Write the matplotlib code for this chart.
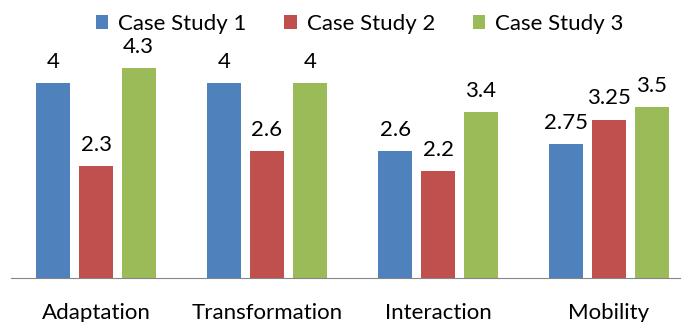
import numpy as np
import matplotlib.pyplot as plt

categories = ['Adaptation', 'Transformation', 'Interaction', 'Mobility']
series_names = ['Case Study 1', 'Case Study 2', 'Case Study 3']
case1 = [4, 4, 2.6, 2.75]
case2 = [2.3, 2.6, 2.2, 3.25]
case3 = [4.3, 4, 3.4, 3.5]
colors = ['#4F81BD', '#C0504D', '#9BBB59']

plt.rcParams['font.family'] = ['Lato', 'DejaVu Sans']
fs = 16

fig = plt.figure(figsize=(6.81, 3.22), dpi=100)
ax = fig.add_axes([10.5 / 681, 44 / 322, 684 / 681, 5 * 48.75 / 322])

x = np.arange(len(categories))
width = 0.2
step = 0.25
for i, (vals, name) in enumerate(zip([case1, case2, case3], series_names)):
    bars = ax.bar(x + (i - 1) * step, vals, width, color=colors[i], label=name)
    for b, v in zip(bars, vals):
        ax.annotate('%g' % v, (b.get_x() + b.get_width() / 2, v),
                    xytext=(0, 8), textcoords='offset points',
                    ha='center', va='bottom', fontsize=fs)

ax.set_xlim(-0.5, 3.5)
ax.set_ylim(0, 5)
for s in ['top', 'right', 'left']:
    ax.spines[s].set_visible(False)
ax.spines['bottom'].set_color('#868686')
ax.set_yticks([])
ax.set_xticks(x)
ax.set_xticklabels(categories, fontsize=fs)
ax.tick_params(axis='x', length=0, pad=18)

fig.legend(loc='upper left', bbox_to_anchor=(76 / 681, 1.02), ncol=3, frameon=False,
           fontsize=fs, handlelength=0.55, handleheight=0.6, handletextpad=0.45,
           columnspacing=1.7)

fig.savefig('out.png', dpi=100)
